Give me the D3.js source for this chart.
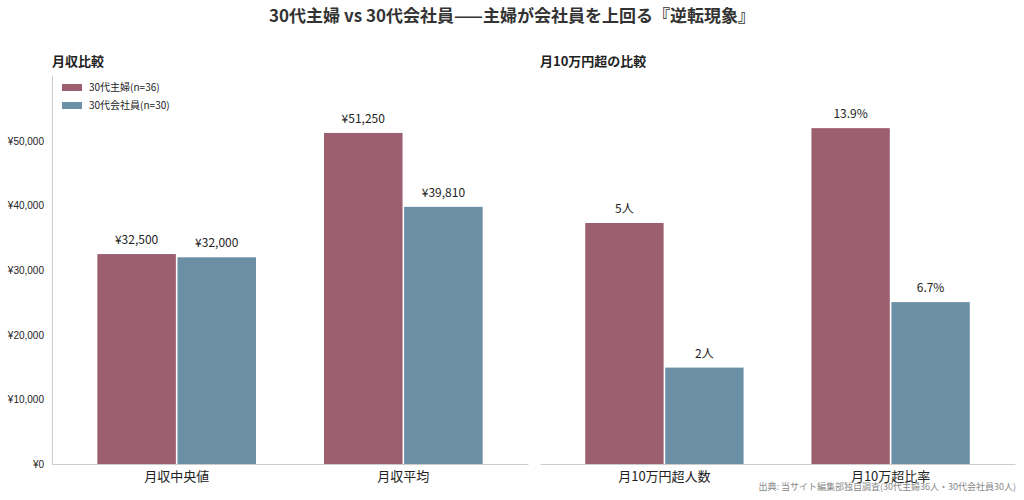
<!DOCTYPE html>
<html><head><meta charset="utf-8">
<script src="https://cdn.jsdelivr.net/npm/d3@7"></script>
<style>body{margin:0;background:#fff;font-family:"Noto Sans CJK JP","Noto Sans",sans-serif}</style>
</head><body><svg id="c" width="1024" height="500"></svg>
<script>
const series = ["30代主婦(n=36)", "30代会社員(n=30)"];
const colors = ["#9c5f70", "#6b8fa5"];
const leftCats = ["月収中央値", "月収平均"];
const leftVals = [[32500, 32000], [51250, 39810]];
const rightCats = ["月10万円超人数", "月10万超比率"];
const rightVals = [[5, 2], [13.9, 6.7]];
const rightLabels = [["5人", "2人"], ["13.9%", "6.7%"]];
const rightMax = [8.07, 16.1];
const yTicks = [0, 10000, 20000, 30000, 40000, 50000];

const svg = d3.select("#c");
const plotTop = 75, plotBottom = 464;
svg.append("text").attr("x", 512).attr("y", 22).attr("text-anchor", "middle")
  .attr("font-size", 17).attr("font-weight", "bold").attr("fill", "#333")
  .text("30代主婦 vs 30代会社員——主婦が会社員を上回る『逆転現象』");

function panel(x0, x1, title, cats, vals, labels, yFor, showAxis) {
  const g = svg.append("g");
  const x = d3.scaleBand().domain(cats).range([x0, x1]).paddingInner(0.3).paddingOuter(0.2);
  const xs = d3.scaleBand().domain(series).range([0, x.bandwidth()]).paddingInner(0.02);
  g.append("text").attr("x", x0).attr("y", 66).attr("font-size", 13).attr("font-weight", "bold")
    .attr("fill", "#222").text(title);
  cats.forEach((c, ci) => {
    const y = yFor(ci);
    series.forEach((s, si) => {
      const v = vals[ci][si];
      g.append("rect").attr("x", x(c) + xs(s)).attr("width", xs.bandwidth())
        .attr("y", y(v)).attr("height", plotBottom - y(v)).attr("fill", colors[si]);
      g.append("text").attr("x", x(c) + xs(s) + xs.bandwidth() / 2).attr("y", y(v) - 10)
        .attr("text-anchor", "middle").attr("font-size", 12).attr("fill", "#222")
        .text(labels[ci][si]);
    });
  });
  const ax = g.append("g").attr("transform", `translate(0,${plotBottom})`)
    .call(d3.axisBottom(x).tickSize(0).tickPadding(8));
  ax.select(".domain").attr("stroke", "#ccc");
  ax.selectAll("text").attr("font-size", 13).attr("fill", "#222").attr("font-family", "Noto Sans CJK JP");
  if (showAxis) {
    const ya = g.append("g").attr("transform", `translate(${x0},0)`)
      .call(d3.axisLeft(yFor(0)).tickValues(yTicks).tickSize(0).tickPadding(8)
        .tickFormat(d => "¥" + d3.format(",")(d)));
    ya.select(".domain").attr("stroke", "#ccc");
    ya.selectAll("text").attr("font-size", 10).attr("fill", "#222");
  }
}

const yLeft = d3.scaleLinear().domain([0, 60220]).range([plotBottom, plotTop]);
panel(52, 528, "月収比較", leftCats, leftVals,
  leftVals.map(r => r.map(v => "¥" + d3.format(",")(v))), () => yLeft, true);
panel(540, 1015, "月10万円超の比較", rightCats, rightVals, rightLabels,
  ci => d3.scaleLinear().domain([0, rightMax[ci]]).range([plotBottom, plotTop]), false);

const lg = svg.append("g").attr("transform", "translate(62,84)");
series.forEach((s, i) => {
  lg.append("rect").attr("x", 0).attr("y", i * 18).attr("width", 20).attr("height", 7).attr("fill", colors[i]);
  lg.append("text").attr("x", 27).attr("y", i * 18 + 7).attr("font-size", 10).attr("fill", "#222").text(s);
});
svg.append("text").attr("x", 1016).attr("y", 490).attr("text-anchor", "end")
  .attr("font-size", 9).attr("fill", "#888").text("出典: 当サイト編集部独自調査(30代主婦36人・30代会社員30人)");
</script></body></html>
